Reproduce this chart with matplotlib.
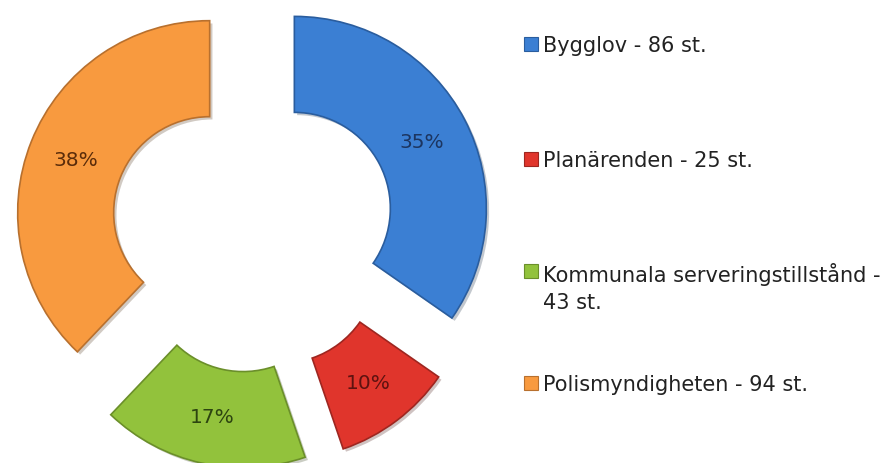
import textwrap
import matplotlib.pyplot as plt
from matplotlib.patches import Rectangle
import matplotlib.patheffects as pe

plt.rcParams['font.family'] = ['DejaVu Sans']

names = ['Bygglov', 'Planärenden', 'Kommunala serveringstillstånd', 'Polismyndigheten']
counts = [86, 25, 43, 94]
colors = ['#3b7fd3', '#e0352c', '#92c23c', '#f89a3f']
edges = ['#2a5d9e', '#9e2620', '#6b8f2a', '#b8702e']
txt_colors = ['#1c3560', '#5e1210', '#2c4410', '#5a2c0a']

fig = plt.figure(figsize=(8.95, 4.64), dpi=100)
ax = fig.add_axes([0, 0, 1, 1])

R = 192
wedges, texts, autotexts = ax.pie(
    counts, colors=colors, startangle=90, counterclock=False,
    radius=R, center=(253, 233), explode=[0.243 * R] * 4,
    autopct='%1.0f%%', pctdistance=0.75,
    wedgeprops=dict(width=0.5 * R, linewidth=1.2),
    textprops=dict(fontsize=14.5))

for w, ec in zip(wedges, edges):
    w.set_edgecolor(ec)
    w.set_path_effects([pe.SimplePatchShadow(offset=(2, -2), alpha=0.25), pe.Normal()])
for t, c in zip(autotexts, txt_colors):
    t.set_color(c)

ax.set_xlim(0, 895)
ax.set_ylim(0, 464)
ax.axis('off')

# legend
rows_y = [45, 160, 272, 384]
for name, n, col, ec, y in zip(names, counts, colors, edges, rows_y):
    label = textwrap.fill(f'{name} - {n} st.', 31)
    ax.add_patch(Rectangle((524, 464 - y - 7), 14, 14, facecolor=col, edgecolor=ec, lw=0.8))
    ax.text(543, 464 - y + 9, label, fontsize=15, color='#222222', va='top', ha='left',
            linespacing=1.45)

fig.savefig('out.png', dpi=100)
